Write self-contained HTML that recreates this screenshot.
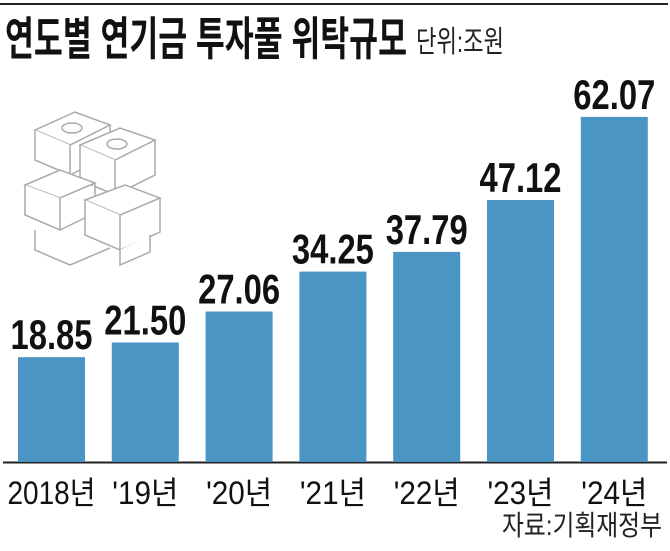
<!DOCTYPE html>
<html><head><meta charset="utf-8"><style>
html,body{margin:0;padding:0;background:#fff;}
body{width:670px;height:551px;overflow:hidden;position:relative;font-family:"Liberation Sans","Noto Sans CJK KR",sans-serif;}
svg{position:absolute;left:0;top:0;}
</style></head><body>
<svg id="chart" width="670" height="551" viewBox="0 0 670 551">
<line x1="0" y1="4" x2="668" y2="4" stroke="#222" stroke-width="2"/>
<text x="5" y="55" font-size="46" font-weight="bold" fill="#111" textLength="402" lengthAdjust="spacingAndGlyphs" font-family="'Liberation Sans','Noto Sans CJK KR',sans-serif">연도별 연기금 투자풀 위탁규모</text>
<text x="416" y="52" font-size="30" fill="#222" textLength="88" lengthAdjust="spacingAndGlyphs" font-family="'Liberation Sans','Noto Sans CJK KR',sans-serif">단위:조원</text>
<g fill="#fff" stroke="#aaa" stroke-width="1.5">
<path d="M35 130 L75 112 L110 125 L70 145 Z"/><path d="M35 130 L35 160 L70 175 L70 145"/><path d="M70 175 L110 155 L110 125"/>
<path d="M80 145 L120 128 L155 140 L115 160 Z"/><path d="M80 145 L80 180 L115 195 L115 160"/><path d="M115 195 L155 175 L155 140"/>
<ellipse cx="72" cy="128" rx="10" ry="5"/><ellipse cx="117" cy="144" rx="10" ry="5"/>
<path d="M25 185 L60 170 L95 183 L60 198 Z"/><path d="M25 185 L25 215 L60 230 L60 198"/><path d="M60 230 L95 213 L95 183"/>
<path d="M85 200 L125 185 L160 198 L120 215 Z"/><path d="M85 200 L85 235 L120 250 L120 215"/><path d="M120 250 L160 232 L160 198"/>
<path d="M35 230 L35 250 L70 265 L110 248"/><path d="M120 250 L120 265 L150 252 L150 235"/>
</g>
<line x1="3" y1="462.5" x2="667" y2="462.5" stroke="#222" stroke-width="2"/>
<g id="bars"></g>
<text x="662" y="535" font-size="28" fill="#222" text-anchor="end" textLength="160" lengthAdjust="spacingAndGlyphs" font-family="'Liberation Sans','Noto Sans CJK KR',sans-serif">자료:기획재정부</text>
</svg>
<script>
const categories = ["2018년", "'19년", "'20년", "'21년", "'22년", "'23년", "'24년"];
const values = [18.85, 21.50, 27.06, 34.25, 37.79, 47.12, 62.07];
const valueLabels = ["18.85", "21.50", "27.06", "34.25", "37.79", "47.12", "62.07"];
const NS = "http://www.w3.org/2000/svg";
const baseY = 462, pxPerUnit = 5.56, barW = 67, x0 = 18, pitch = 93.8;
function xScale(i){ return x0 + i*pitch; }
function yScale(v){ return baseY - v*pxPerUnit; }
const g = document.getElementById('bars');
categories.forEach((c,i)=>{
  const x = xScale(i), y = yScale(values[i]);
  const r = document.createElementNS(NS,'rect');
  r.setAttribute('x',x); r.setAttribute('y',y); r.setAttribute('width',barW); r.setAttribute('height',baseY-y);
  r.setAttribute('fill','#4a95c4');
  
  
  g.appendChild(r);
  const t = document.createElementNS(NS,'text');
  t.setAttribute('x',x+barW/2); t.setAttribute('y',y-8); t.setAttribute('text-anchor','middle');
  t.setAttribute('font-size','42'); t.setAttribute('font-weight','bold'); t.setAttribute('fill','#111');
  t.setAttribute('textLength','82'); t.setAttribute('lengthAdjust','spacingAndGlyphs');
  t.textContent = valueLabels[i];
  
  
  g.appendChild(t);
  const l = document.createElementNS(NS,'text');
  l.setAttribute('x',x+barW/2); l.setAttribute('y',504); l.setAttribute('text-anchor','middle');
  l.setAttribute('font-size','32'); l.setAttribute('fill','#111');
  l.setAttribute('textLength', i===0?'88':'66'); l.setAttribute('lengthAdjust','spacingAndGlyphs');
  l.textContent = c;
  
  
  g.appendChild(l);
});
</script>
</body></html>
